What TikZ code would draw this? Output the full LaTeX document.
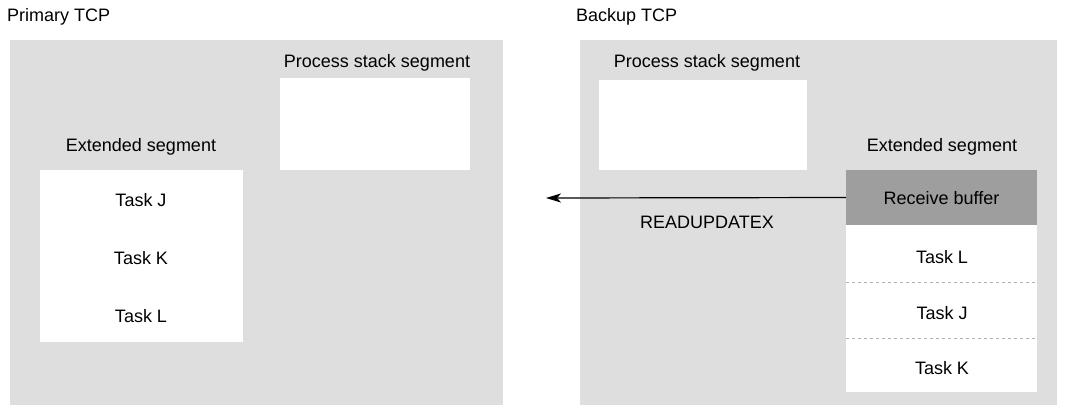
\documentclass[tikz,border=0pt]{standalone}
\usepackage{fontspec}
\setmainfont{Liberation Sans}
\usetikzlibrary{arrows.meta}
\begin{document}
\begin{tikzpicture}[x=1pt,y=-1pt,
  every node/.style={font=\fontsize{18}{21}\selectfont, inner sep=0pt},
  region/.style={draw=none, fill=black!13, rectangle},
  whitebox/.style={draw=none, fill=white, rectangle},
  darkbox/.style={draw=none, fill=black!38, rectangle},
  lbl/.style={anchor=center},
  divider/.style={draw=black!30, dashed, line width=0.6pt}
]
\useasboundingbox (0,0) rectangle (1068,413);
\fill[white] (0,0) rectangle (1068,413);

% titles
\node[anchor=west] (ptitle) at (7,17) {Primary TCP};
\node[anchor=west] (btitle) at (576,17) {Backup TCP};

% primary
\node[region, minimum width=493pt, minimum height=365pt] (preg) at (256.5,222.5) {};
\node[whitebox, minimum width=190pt, minimum height=92pt] (pstack) at (375,124) {};
\node[lbl] (pstacklbl) at (377,63) {Process stack segment};
\node[whitebox, minimum width=203pt, minimum height=172pt] (pext) at (141.5,256) {};
\node[lbl] (pextlbl) at (141,147) {Extended segment};
\node[lbl] (ptj) at (141,200) {Task J};
\node[lbl] (ptk) at (141,258) {Task K};
\node[lbl] (ptl) at (141,316) {Task L};

% backup
\node[region, minimum width=477pt, minimum height=365pt] (breg) at (818.5,222.5) {};
\node[whitebox, minimum width=208pt, minimum height=90pt] (bstack) at (703,125) {};
\node[lbl] (bstacklbl) at (707,63) {Process stack segment};
\node[lbl] (bextlbl) at (942,147) {Extended segment};
\node[darkbox, minimum width=191pt, minimum height=55pt] (rbuf) at (941.5,197.5) {};
\node[lbl] (rbuflbl) at (941.5,198) {Receive buffer};
\node[whitebox, minimum width=191pt, minimum height=57pt] (btl) at (941.5,253.5) {};
\node[whitebox, minimum width=191pt, minimum height=57pt] (btj) at (941.5,310) {};
\node[whitebox, minimum width=191pt, minimum height=54pt] (btk) at (941.5,365) {};
\draw[divider] (btl.south west) -- (btl.south east);
\draw[divider] (btj.south west) -- (btj.south east);
\node[lbl] (btllbl) at (942,257) {Task L};
\node[lbl] (btjlbl) at (942,313) {Task J};
\node[lbl] (btklbl) at (942,368) {Task K};

% arrow
\coordinate (arrend) at (546,198);
\draw[line width=1.2pt, -{Stealth[length=15pt,width=9pt,inset=4pt]}] (rbuf.west) -- (arrend);
\node[lbl] (rupd) at (707,222) {READUPDATEX};
\end{tikzpicture}
\end{document}
